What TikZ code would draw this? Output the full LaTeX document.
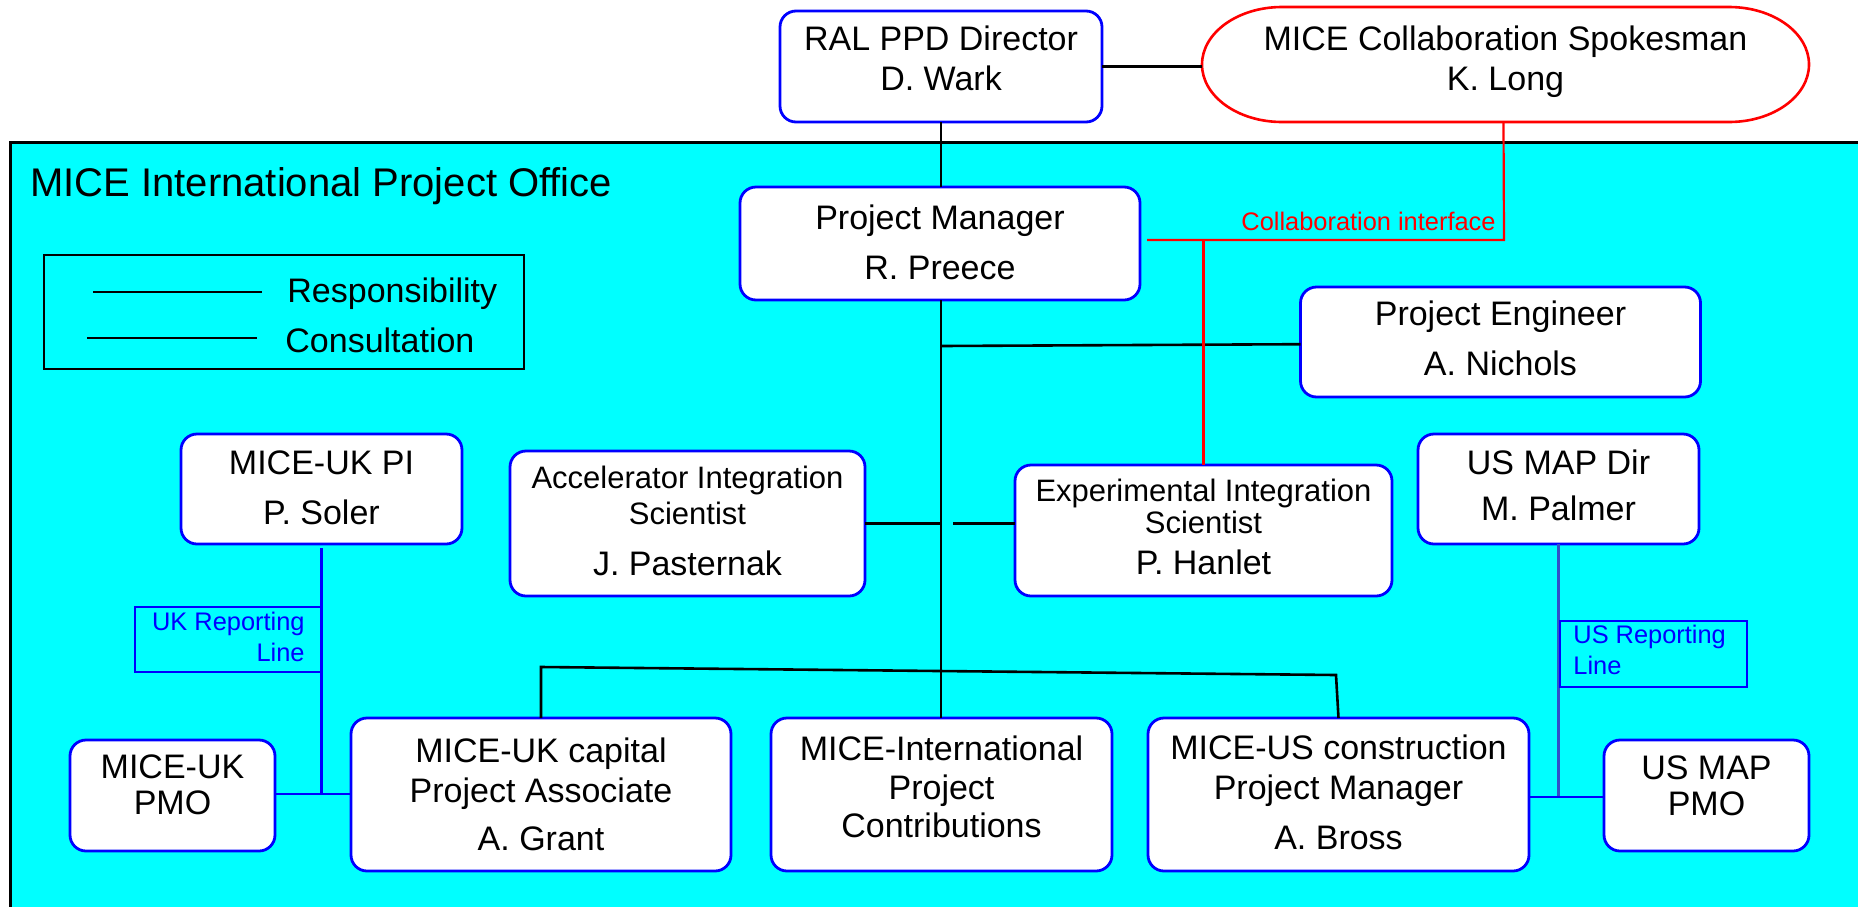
\documentclass[tikz,border=0pt]{standalone}
\usepackage{fontspec}
\setmainfont{Liberation Sans}
\definecolor{officecyan}{RGB}{0,255,255}
\definecolor{pureblue}{RGB}{0,0,255}
\definecolor{purered}{RGB}{255,0,0}
\definecolor{slateblue}{RGB}{50,80,200}
\begin{document}
\begin{tikzpicture}[x=0.5pt,y=-0.5pt,
  box/.style={rectangle,draw=pureblue,line width=1.4pt,fill=white,rounded corners=8pt,inner sep=0pt,outer sep=0pt},
  ghost/.style={rectangle,inner sep=0pt,outer sep=0pt},
  txt/.style={align=center,inner sep=0pt,font=\fontsize{17}{16}\selectfont},
  small/.style={inner sep=0pt,font=\fontsize{12.7}{15.5}\selectfont},
  resp/.style={draw=black,line width=1.3pt},
  uk/.style={draw=pureblue,line width=1.3pt},
  collab/.style={draw=purered,line width=1.1pt}]
\useasboundingbox (0,0) rectangle (1858,906);
% office background
\fill[officecyan] (10,142) rectangle (1880,930);
\draw[black,line width=1.5pt] (1880,142) -- (10,142) -- (10,930);
\node[anchor=base west,inner sep=0pt,font=\fontsize{20}{24}\selectfont] (office) at (30,196) {MICE International Project Office};
% legend
\node[ghost,draw=black,line width=1.2pt,minimum width=240pt,minimum height=57pt] (legend) at (284,312) {};
\coordinate (l1a) at (93,292); \coordinate (l1b) at (262,292);
\coordinate (l2a) at (87,338); \coordinate (l2b) at (257,338);
\draw[resp] (l1a) -- (l1b);
\draw[resp] (l2a) -- (l2b);
\node[anchor=base west,inner sep=0pt,font=\fontsize{17}{16}\selectfont] (lrespt) at (287,302) {Responsibility};
\node[anchor=base west,inner sep=0pt,font=\fontsize{17}{16}\selectfont] (lconst) at (285,352) {Consultation};
% boxes
\node[box,minimum width=161pt,minimum height=55.5pt] (ral) at (941,66.5) {};
\node[ghost,minimum width=303.5pt,minimum height=57.5pt] (spk) at (1505.5,64.5) {};
\draw[purered,line width=1.3pt,fill=white] ([xshift=40pt]spk.north west) -- ([xshift=-40pt]spk.north east)
  arc[start angle=90,end angle=-90,x radius=40pt,y radius=28.75pt]
  -- ([xshift=40pt]spk.south west)
  arc[start angle=270,end angle=90,x radius=40pt,y radius=28.75pt] -- cycle;
\node[box,minimum width=200pt,minimum height=56.5pt] (pm) at (940,243.5) {};
\node[box,minimum width=200pt,minimum height=55pt] (pe) at (1500.5,342) {};
\node[box,minimum width=177.5pt,minimum height=72.5pt] (ais) at (687.5,523.5) {};
\node[box,minimum width=188.5pt,minimum height=65.5pt] (eis) at (1203.5,530.5) {};
\node[box,minimum width=140.5pt,minimum height=55pt] (ukpi) at (321.5,489) {};
\node[box,minimum width=140.5pt,minimum height=55pt] (usdir) at (1558.5,489) {};
\node[box,minimum width=102.5pt,minimum height=55.5pt] (ukpmo) at (172.5,795.5) {};
\node[box,minimum width=190pt,minimum height=76.5pt] (ukcap) at (541,794.5) {};
\node[box,minimum width=170.5pt,minimum height=76.5pt] (contrib) at (941.5,794.5) {};
\node[box,minimum width=190.5pt,minimum height=76.5pt] (usc) at (1338.5,794.5) {};
\node[box,minimum width=102.5pt,minimum height=55.5pt] (uspmo) at (1706.5,795.5) {};
% texts
\node[txt] (ralt) at (941,58) {RAL PPD Director\\[4pt]D. Wark};
\node[txt] (spkt) at (1505.5,61.5) {MICE Collaboration Spokesman\\[4pt]K. Long};
\node[txt] (pmt) at (940,242) {Project Manager\\[9pt]R. Preece};
\node[txt] (pet) at (1500.5,338) {Project Engineer\\[9pt]A. Nichols};
\node[txt] (aist) at (687.5,520.5) {\fontsize{15.5}{16}\selectfont Accelerator Integration\\[2pt]\fontsize{15.5}{16}\selectfont Scientist\\[9.5pt]\fontsize{17}{16}\selectfont J. Pasternak};
\node[txt] (eist) at (1203.5,526.5) {\fontsize{15.5}{16}\selectfont Experimental Integration\\\fontsize{15.5}{16}\selectfont Scientist\\[4.5pt]\fontsize{17}{16}\selectfont P. Hanlet};
\node[txt] (ukpit) at (321.5,488) {MICE-UK PI\\[9pt]P. Soler};
\node[txt] (usdirt) at (1558.5,485) {US MAP Dir\\[7pt]M. Palmer};
\node[txt] (ukpmot) at (172.5,785) {MICE-UK\\[2pt]PMO};
\node[txt] (ukcapt) at (541,794) {MICE-UK capital\\[4pt]Project Associate\\[8pt]A. Grant};
\node[txt] (contribt) at (941.5,786.5) {MICE-International\\[3.5pt]Project\\[3pt]Contributions};
\node[txt] (usct) at (1338.5,792) {MICE-US construction\\[4pt]Project Manager\\[9pt]A. Bross};
\node[txt] (uspmot) at (1706.5,786) {US MAP\\[2pt]PMO};
% responsibility connectors
\draw[resp] (ral.east) -- (ral.east -| spk.west);
\draw[resp] (ral.south) -- (ral.south |- pm.north);
\draw[resp] (ral.south |- pm.south) -- (ral.south |- contrib.north);
\coordinate (pej) at (941,346);
\draw[resp] (pej) -- ([yshift=-1.1pt]pe.west);
\draw[resp] (ais.east) -- (ais.east -| ral.south);
\coordinate (eisgap) at (953,523.5);
\draw[resp] (eis.west |- ais.east) -- (eisgap);
\coordinate (brl) at (541,667);
\coordinate (brr) at (1336,675);
\draw[resp] (ukcap.north) -- (brl) -- (brr) -- (usc.north);
% collaboration interface
\coordinate (redturn) at (1504,240);
\coordinate (redend) at (1147,240);
\draw[collab] ([xshift=-1pt]spk.south) -- (redturn) -- (redend);
\draw[collab] (eis.north |- redend) -- (eis.north);
\node[small,text=purered,anchor=base] (collabt) at (1368.5,230) {Collaboration interface};
% UK reporting line
\draw[uk] ([yshift=-2pt]ukpi.south) -- ([yshift=0.7pt]ukpi.south |- ukpmo.east);
\draw[uk] ([yshift=0.7pt]ukpmo.east) -- ([yshift=0.2pt]ukcap.west);
\node[ghost,draw=pureblue,line width=1.3pt,minimum width=93.5pt,minimum height=32.5pt] (ukrep) at (228.5,639.5) {};
\node[small,text=pureblue,align=right,anchor=east] (ukrept) at (305,637) {UK Reporting\\Line};
% US reporting line
\draw[draw=slateblue,line width=1.2pt] (usdir.south) -- ([yshift=-0.7pt]usdir.south |- uspmo.west);
\draw[uk] ([yshift=-1.2pt]usc.east) -- ([yshift=-0.7pt]uspmo.west);
\node[ghost,draw=pureblue,line width=1.3pt,minimum width=93.5pt,minimum height=33pt] (usrep) at (1653.5,654) {};
\node[small,text=pureblue,align=left,anchor=west] (usrept) at (1573,649.5) {US Reporting\\Line};
\end{tikzpicture}
\end{document}
